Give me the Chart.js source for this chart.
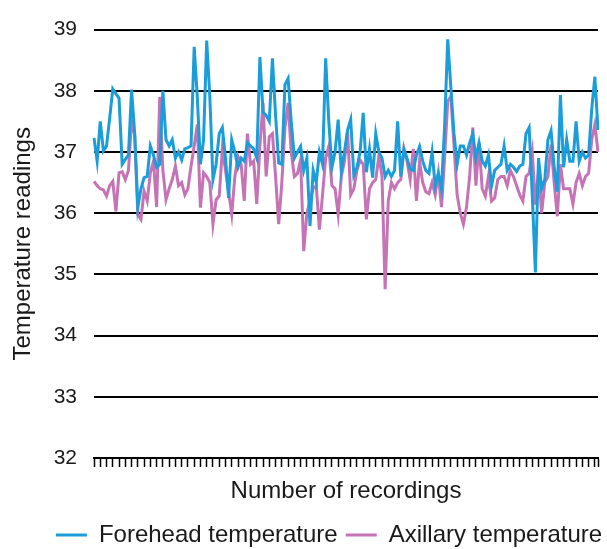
<!DOCTYPE html>
<html>
<head>
<meta charset="utf-8">
<script src="https://cdn.jsdelivr.net/npm/chart.js@4/dist/chart.umd.min.js"></script>
<style>
  body { margin: 0; background: #fff; }
  #wrap { width: 607px; height: 549px; }
</style>
</head>
<body>
<div id="wrap"><canvas id="canvas"></canvas></div>
<script>
// readings (162 recordings)
var forehead = [
    37.23, 36.85, 37.5, 37.02, 37.1, 37.55, 38.03, 37.95, 37.88, 36.8, 36.88, 36.95, 38.02, 37.3, 36.09, 36.4, 36.58, 36.6, 37.1, 36.95, 36.75, 36.8, 38.0, 37.2, 37.1, 37.2, 36.9,
    37.0, 36.87, 37.05, 37.07, 37.1, 38.72, 37.9, 36.8, 37.2, 38.82, 37.9, 36.55, 36.8, 37.3, 37.4, 36.9, 36.25, 37.2, 37.0, 36.75, 36.9, 36.85, 37.15, 37.1, 37.05, 36.9, 38.55,
    37.65, 37.6, 37.5, 38.53, 37.6, 36.82, 36.8, 38.1, 38.2, 37.5, 36.9, 37.0, 37.09, 36.7, 36.9, 35.79, 36.7, 36.5, 37.0, 36.8, 38.53, 37.5, 36.75, 37.0, 37.53, 36.68, 37.0,
    37.36, 37.53, 36.62, 36.75, 37.0, 37.64, 36.67, 37.05, 36.58, 37.3, 37.0, 36.9, 36.6, 36.7, 36.6, 36.7, 37.5, 36.6, 37.04, 36.9, 36.72, 36.7, 36.95, 37.09, 36.85, 36.7, 36.65,
    37.0, 36.45, 36.65, 36.4, 37.42, 38.84, 38.05, 37.3, 36.8, 37.1, 37.1, 36.95, 37.15, 37.3, 36.9, 37.15, 36.85, 36.77, 36.95, 36.45, 36.7, 36.75, 36.8, 37.1, 36.7, 36.8,
    36.75, 36.68, 36.77, 36.8, 37.3, 37.4, 36.3, 35.03, 36.9, 36.4, 36.55, 37.2, 37.35, 36.75, 36.35, 37.93, 36.75, 37.2, 36.85, 36.85, 37.5, 36.85, 37.0, 36.9, 36.95, 37.7, 38.23, 37.36
];
var axillary = [
    36.52, 36.45, 36.4, 36.38, 36.28, 36.45, 36.52, 36.03, 36.66, 36.68, 36.55, 36.7, 37.5, 37.28, 35.98, 35.9, 36.36, 36.2, 36.66, 36.85, 36.1, 37.9, 36.7, 36.22, 36.4, 36.55, 36.77,
    36.45, 36.5, 36.3, 36.4, 36.77, 37.1, 37.45, 36.09, 36.66, 36.6, 36.5, 35.82, 36.22, 36.28, 37.05, 36.7, 36.35, 35.98, 36.6, 36.93, 36.8, 36.2, 37.3, 36.8, 36.85, 36.15, 37.1,
    37.8, 36.6, 37.25, 37.3, 36.6, 35.82, 36.5, 37.4, 37.8, 37.0, 36.6, 36.65, 36.87, 35.38, 36.0, 36.2, 36.4, 36.45, 35.73, 36.3, 36.9, 37.09, 36.45, 36.4, 35.98, 36.6, 36.85,
    37.34, 36.3, 36.4, 36.7, 36.87, 36.8, 35.9, 36.4, 36.5, 36.55, 36.93, 36.6, 34.76, 36.2, 36.5, 36.4, 36.5, 36.55, 37.06, 36.85, 36.55, 37.05, 36.2, 36.85, 36.5, 36.35, 36.32,
    36.5, 36.3, 36.65, 36.1, 36.9, 37.83, 37.91, 37.1, 36.3, 36.0, 35.82, 36.1, 36.6, 37.4, 36.45, 37.15, 36.4, 36.28, 36.6, 36.2, 36.25, 36.55, 36.6, 36.6, 36.45, 36.7,
    36.6, 36.45, 36.3, 36.2, 36.6, 36.65, 37.0, 36.14, 36.7, 36.0, 36.5, 36.6, 37.12, 36.5, 35.95, 36.8, 36.4, 36.4, 36.4, 36.15, 36.5, 36.65, 36.45, 36.6, 36.65, 37.2, 37.45, 37.0
];
var recordings = forehead.map(function (v, i) { return i + 1; });

var yMin = 32;
var yMax = 39;

var font = "'Liberation Sans', Arial, sans-serif";
var ink = '#1a1a1a';

// the legend sits a bit right of centre in the original
var legendShift = {
    id: 'legendShift',
    afterLayout: function (chart) {
        chart.legend.left += 27;
        chart.legend.right += 27;
    }
};

var config = {
    type: 'line',
    data: {
        labels: recordings,
        datasets: [{
            label: 'Forehead temperature',
            data: forehead,
            borderColor: '#1b9dd9',
            backgroundColor: '#1b9dd9',
            borderWidth: 3,
            pointRadius: 0,
            tension: 0,
            fill: false
        }, {
            label: 'Axillary temperature',
            data: axillary,
            borderColor: '#c673b5',
            backgroundColor: '#c673b5',
            borderWidth: 3,
            pointRadius: 0,
            tension: 0,
            fill: false
        }]
    },
    options: {
        responsive: true,
        maintainAspectRatio: false,
        animation: false,
        layout: {
            padding: { top: 25, right: 9, bottom: -8, left: 6 }
        },
        plugins: {
            legend: {
                position: 'bottom',
                labels: {
                    usePointStyle: true,
                    pointStyle: 'line',
                    pointStyleWidth: 31,
                    padding: 8,
                    color: ink,
                    font: { family: font, size: 24 }
                }
            },
            tooltip: { enabled: false }
        },
        scales: {
            x: {
                offset: false,
                grid: {
                    drawOnChartArea: false,
                    drawTicks: true,
                    tickLength: 9,
                    tickWidth: 1.5,
                    tickColor: function (ctx) {
                        return (ctx.index % 2 === 0 || ctx.index === recordings.length - 1) ? '#000' : 'rgba(0,0,0,0)';
                    }
                },
                border: { display: true, color: '#000', width: 2 },
                ticks: { display: false, autoSkip: false },
                title: {
                    display: true,
                    text: 'Number of recordings',
                    color: ink,
                    font: { family: font, size: 24 },
                    padding: { top: 4, bottom: 9 }
                },
                afterFit: function (scale) { scale.height = 57; }
            },
            y: {
                min: yMin,
                max: yMax,
                grid: { color: '#000', lineWidth: 2, drawTicks: false },
                border: { display: false },
                ticks: {
                    stepSize: 1,
                    padding: 17,
                    color: ink,
                    font: { family: font, size: 21 }
                },
                title: {
                    display: true,
                    text: 'Temperature readings',
                    color: ink,
                    font: { family: font, size: 24 },
                    padding: { top: 3, bottom: 4 }
                },
                afterFit: function (scale) { scale.width = 88; }
            }
        }
    },
    plugins: [legendShift]
};

window.onload = function () {
    var ctx = document.getElementById('canvas').getContext('2d');
    window.myLine = new Chart(ctx, config);
};
</script>
</body>
</html>
